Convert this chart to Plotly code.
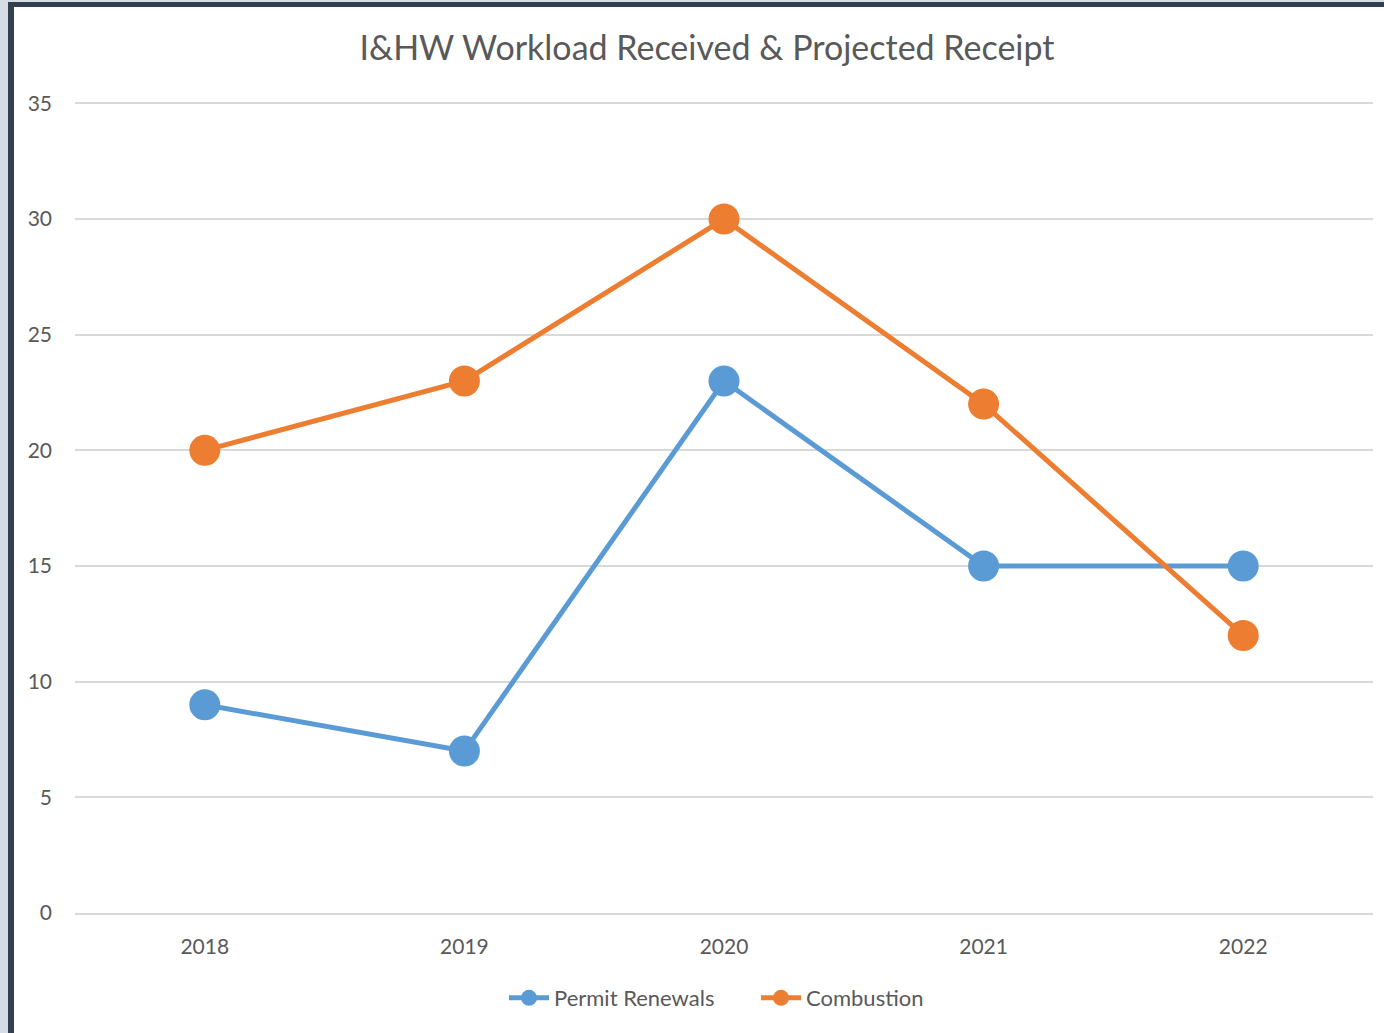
import plotly.graph_objects as go

years = ["2018", "2019", "2020", "2021", "2022"]
permit_renewals = [9, 7, 23, 15, 15]
combustion = [20, 23, 30, 22, 12]
y_ticks = [0, 5, 10, 15, 20, 25, 30, 35]

W, H = 1384, 1033
L, R, T, B = 75, 11, 102, 120
pw = W - L - R
ph = H - T - B

def px(x):
    return (x - L) / pw

def py(y):
    return (H - B - y) / ph

FONT = "Lato"
TXT = "#595959"

fig = go.Figure()
fig.add_trace(go.Scatter(
    x=years, y=permit_renewals, name="Permit Renewals", mode="lines+markers",
    line=dict(color="#5b9bd5", width=5),
    marker=dict(size=31, color="#5b9bd5"),
))
fig.add_trace(go.Scatter(
    x=years, y=combustion, name="Combustion", mode="lines+markers",
    line=dict(color="#ed7d31", width=5),
    marker=dict(size=31, color="#ed7d31"),
))

shapes = [
    dict(type="rect", xref="paper", yref="paper", x0=px(0), x1=px(8), y0=py(H), y1=py(0),
         fillcolor="#d6dce5", line_width=0, layer="above"),
    dict(type="rect", xref="paper", yref="paper", x0=px(0), x1=px(W), y0=py(2), y1=py(0),
         fillcolor="#d6dce5", line_width=0, layer="above"),
    dict(type="rect", xref="paper", yref="paper", x0=px(8), x1=px(14), y0=py(H), y1=py(2),
         fillcolor="#323f4f", line_width=0, layer="above"),
    dict(type="rect", xref="paper", yref="paper", x0=px(8), x1=px(W), y0=py(7), y1=py(2),
         fillcolor="#323f4f", line_width=0, layer="above"),
]

fig.update_layout(
    width=W, height=H,
    margin=dict(l=L, r=R, t=T, b=B, autoexpand=False),
    paper_bgcolor="white", plot_bgcolor="white",
    font=dict(family=FONT, color=TXT),
    title=dict(text="I&HW Workload Received & Projected Receipt",
               x=px(707), xref="paper", xanchor="center", y=1 - 48 / H, yanchor="middle",
               font=dict(size=34, family=FONT, color=TXT)),
    xaxis=dict(type="category", range=[-0.5, 4.5], showgrid=False, showline=True,
               linecolor="#d9d9d9", linewidth=2, ticks="",
               tickfont=dict(size=21, color=TXT), ticklabelstandoff=14),
    yaxis=dict(range=[0, 35.06], tickvals=y_ticks, showgrid=True, gridcolor="#d9d9d9",
               gridwidth=2, zeroline=False, showline=False, ticks="",
               tickfont=dict(size=21, color=TXT), ticklabelstandoff=22),
    legend=dict(orientation="h", x=px(756), xanchor="center", xref="paper",
                y=py(998), yanchor="middle", font=dict(size=22, color=TXT),
                itemwidth=40, tracegroupgap=0, entrywidth=197, entrywidthmode="pixels"),
    shapes=shapes,
    showlegend=True,
)

fig.write_html("out.html", config={"displayModeBar": False},
               post_script="document.body.style.margin='0';document.body.style.overflow='hidden';")
